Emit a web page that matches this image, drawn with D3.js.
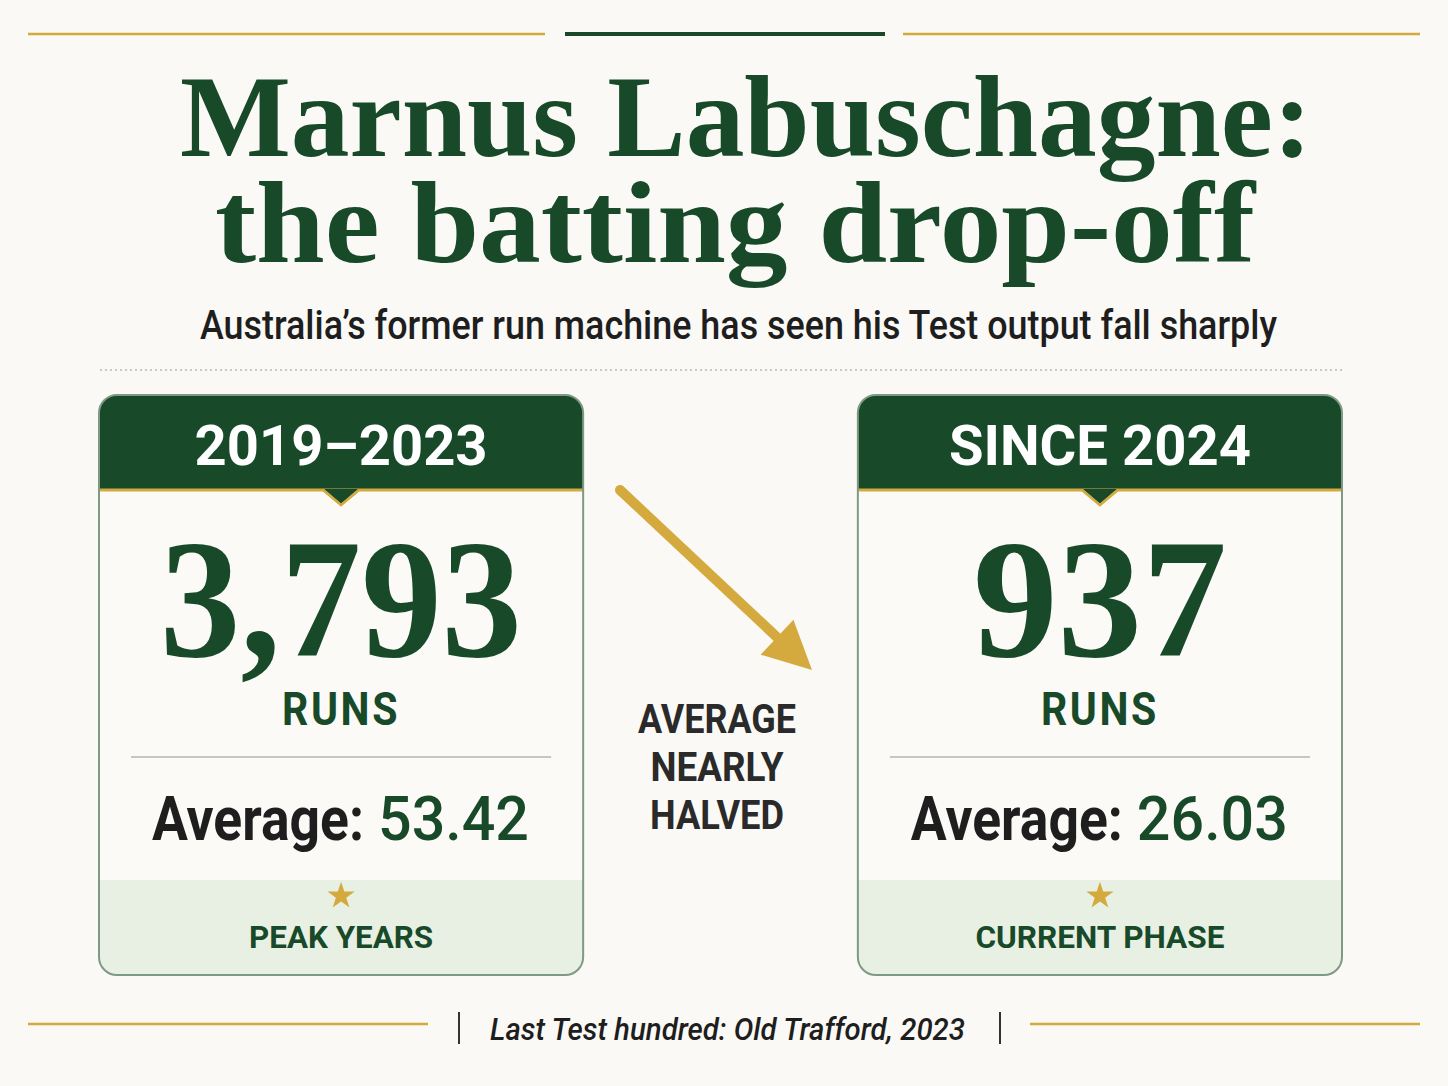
<!DOCTYPE html>
<html>
<head>
<meta charset="utf-8">
<script src="https://cdn.jsdelivr.net/npm/d3@7"></script>
<style>
  html, body { margin: 0; padding: 0; background: #faf9f5; }
  svg { display: block; }
</style>
</head>
<body>
<div id="container"></div>
<script>
// Data
const periods = ['2019–2023', 'SINCE 2024'];
const runs = [3793, 937];
const averages = [53.42, 26.03];
const phaseTags = ['PEAK YEARS', 'CURRENT PHASE'];
const middleNote = ['AVERAGE', 'NEARLY', 'HALVED'];

const titleLines = ['Marnus Labuschagne:', 'the batting drop-off'];
const subtitle = 'Australia’s former run machine has seen his Test output fall sharply';
const footnote = 'Last Test hundred: Old Trafford, 2023';

window.onload = function () {
    const W = 1448, H = 1086;
    const green = '#184a2a';
    const gold = '#d4aa3e';
    const ink = '#1e1e1e';

    const svg = d3.select('#container').append('svg')
        .attr('width', W)
        .attr('height', H);

    svg.append('rect').attr('width', W).attr('height', H).attr('fill', '#faf9f5');

    // helper: squeeze text to a given width
    function fit(sel, w) {
        sel.attr('textLength', w).attr('lengthAdjust', 'spacingAndGlyphs');
        return sel;
    }

    // top rules
    svg.append('line').attr('x1', 28).attr('x2', 545).attr('y1', 34).attr('y2', 34)
        .attr('stroke', gold).attr('stroke-width', 2.5);
    svg.append('line').attr('x1', 565).attr('x2', 885).attr('y1', 34).attr('y2', 34)
        .attr('stroke', green).attr('stroke-width', 4);
    svg.append('line').attr('x1', 903).attr('x2', 1420).attr('y1', 34).attr('y2', 34)
        .attr('stroke', gold).attr('stroke-width', 2.5);

    // title
    const titleY = [156, 262];
    const titleX = [[180, 1312], [215, 1255]];
    titleLines.forEach((t, i) => {
        fit(svg.append('text')
            .attr('x', titleX[i][0])
            .attr('y', titleY[i])
            .attr('font-family', '"Liberation Serif", "DejaVu Serif", serif')
            .attr('font-weight', 700)
            .attr('font-size', 116)
            .attr('fill', green)
            .text(t), titleX[i][1] - titleX[i][0]);
    });

    // subtitle
    fit(svg.append('text')
        .attr('x', 200).attr('y', 339)
        .attr('font-family', 'Roboto, "Noto Sans", sans-serif')
        .attr('font-weight', 500)
        .attr('font-size', 40)
        .attr('fill', ink)
        .text(subtitle), 1077);

    // dotted separator
    svg.append('line').attr('x1', 100).attr('x2', 1345).attr('y1', 370).attr('y2', 370)
        .attr('stroke', '#9a9a9a').attr('stroke-width', 1.2).attr('stroke-dasharray', '2,3');

    // card positions
    const xCard = d3.scaleBand()
        .domain(periods)
        .range([99, 1342])
        .paddingInner(0.362)
        .paddingOuter(0);
    const bw = xCard.bandwidth();
    const top = 395, bottom = 975, headH = 95, bandTop = 880, r = 18;

    const defs = svg.append('defs');
    const cards = svg.selectAll('g.card')
        .data(periods.map((p, i) => ({ p, i, runs: runs[i], avg: averages[i], tag: phaseTags[i] })))
        .join('g')
        .attr('class', 'card')
        .attr('transform', d => `translate(${xCard(d.p)},0)`);

    cards.each(function (d) {
        defs.append('clipPath').attr('id', 'clip' + d.i)
            .append('rect').attr('x', 0).attr('y', top).attr('width', bw).attr('height', bottom - top)
            .attr('rx', r).attr('ry', r);
    });

    const inner = cards.append('g').attr('clip-path', d => `url(#clip${d.i})`);
    inner.append('rect').attr('x', 0).attr('y', top).attr('width', bw).attr('height', bottom - top)
        .attr('fill', '#fbfaf6');
    inner.append('rect').attr('x', 0).attr('y', top).attr('width', bw).attr('height', headH)
        .attr('fill', green);
    inner.append('rect').attr('x', 0).attr('y', bandTop).attr('width', bw).attr('height', bottom - bandTop)
        .attr('fill', '#e7f0e3');
    inner.append('rect').attr('x', 0).attr('y', top + headH - 1.5).attr('width', bw).attr('height', 3)
        .attr('fill', gold);

    // notch under header
    const cx = bw / 2;
    const ny = top + headH;
    cards.append('path')
        .attr('d', `M${cx - 17},${ny - 1} L${cx},${ny + 14} L${cx + 17},${ny - 1} Z`)
        .attr('fill', green);
    cards.append('path')
        .attr('d', `M${cx - 18},${ny} L${cx},${ny + 15} L${cx + 18},${ny}`)
        .attr('fill', 'none').attr('stroke', gold).attr('stroke-width', 2.5);

    // border
    cards.append('rect').attr('x', 0).attr('y', top).attr('width', bw).attr('height', bottom - top)
        .attr('rx', r).attr('ry', r)
        .attr('fill', 'none').attr('stroke', '#7f9a84').attr('stroke-width', 2);

    // header label
    const headW = [293, 302];
    cards.append('text')
        .attr('x', cx).attr('y', 465)
        .attr('text-anchor', 'middle')
        .attr('font-family', 'Roboto, "Noto Sans", sans-serif')
        .attr('font-weight', 700)
        .attr('font-size', 56)
        .attr('fill', '#ffffff')
        .attr('textLength', d => headW[d.i])
        .attr('lengthAdjust', 'spacingAndGlyphs')
        .text(d => d.p);

    // big run totals
    const runW = [362, 254];
    cards.append('text')
        .attr('x', cx).attr('y', 656)
        .attr('text-anchor', 'middle')
        .attr('font-family', '"Liberation Serif", "DejaVu Serif", serif')
        .attr('font-weight', 700)
        .attr('font-size', 170)
        .attr('fill', green)
        .attr('textLength', d => runW[d.i])
        .attr('lengthAdjust', 'spacingAndGlyphs')
        .text(d => d3.format(',')(d.runs));

    cards.append('text')
        .attr('x', cx).attr('y', 725)
        .attr('text-anchor', 'middle')
        .attr('font-family', 'Roboto, "Noto Sans", sans-serif')
        .attr('font-weight', 700)
        .attr('font-size', 47)
        .attr('fill', green)
        .attr('letter-spacing', 3)
        .attr('textLength', 118)
        .attr('lengthAdjust', 'spacingAndGlyphs')
        .text('RUNS');

    // divider
    cards.append('line')
        .attr('x1', 32).attr('x2', bw - 32).attr('y1', 757).attr('y2', 757)
        .attr('stroke', '#b5b5b0').attr('stroke-width', 1.5);

    // average line
    cards.append('text')
        .attr('x', 53).attr('y', 840)
        .attr('font-family', 'Roboto, "Noto Sans", sans-serif')
        .attr('font-weight', 700)
        .attr('font-size', 62)
        .attr('fill', ink)
        .attr('textLength', 212)
        .attr('lengthAdjust', 'spacingAndGlyphs')
        .text('Average:');
    cards.append('text')
        .attr('x', 279).attr('y', 840)
        .attr('font-family', 'Roboto, "Noto Sans", sans-serif')
        .attr('font-weight', 500)
        .attr('font-size', 62)
        .attr('fill', green)
        .attr('textLength', 151)
        .attr('lengthAdjust', 'spacingAndGlyphs')
        .text(d => d3.format('.2f')(d.avg));

    // star + tag
    cards.append('path')
        .attr('transform', `translate(${cx},896)`)
        .attr('d', d3.symbol().type(d3.symbolStar).size(230))
        .attr('fill', gold);
    const tagW = [184, 249];
    cards.append('text')
        .attr('x', cx).attr('y', 948)
        .attr('text-anchor', 'middle')
        .attr('font-family', 'Roboto, "Noto Sans", sans-serif')
        .attr('font-weight', 700)
        .attr('font-size', 32)
        .attr('fill', green)
        .attr('textLength', d => tagW[d.i])
        .attr('lengthAdjust', 'spacingAndGlyphs')
        .text(d => d.tag);

    // arrow between cards
    const a0 = [620, 490], a1 = [812, 670];
    const ang = Math.atan2(a1[1] - a0[1], a1[0] - a0[0]);
    const headLen = 48, headHalf = 24;
    const bx = a1[0] - headLen * Math.cos(ang), by = a1[1] - headLen * Math.sin(ang);
    svg.append('line')
        .attr('x1', a0[0]).attr('y1', a0[1])
        .attr('x2', bx + 6 * Math.cos(ang)).attr('y2', by + 6 * Math.sin(ang))
        .attr('stroke', gold).attr('stroke-width', 10).attr('stroke-linecap', 'round');
    svg.append('path')
        .attr('d', d3.line()([
            [a1[0], a1[1]],
            [bx + headHalf * Math.sin(ang), by - headHalf * Math.cos(ang)],
            [bx - headHalf * Math.sin(ang), by + headHalf * Math.cos(ang)]
        ]) + 'Z')
        .attr('fill', gold);

    // middle note
    const noteW = [158, 133, 134];
    svg.selectAll('text.note')
        .data(middleNote)
        .join('text')
        .attr('class', 'note')
        .attr('x', 717)
        .attr('y', (d, i) => 733 + i * 48)
        .attr('text-anchor', 'middle')
        .attr('font-family', 'Roboto, "Noto Sans", sans-serif')
        .attr('font-weight', 700)
        .attr('font-size', 40)
        .attr('fill', '#2a2a2a')
        .attr('textLength', (d, i) => noteW[i])
        .attr('lengthAdjust', 'spacingAndGlyphs')
        .text(d => d);

    // footer
    svg.append('line').attr('x1', 28).attr('x2', 428).attr('y1', 1024).attr('y2', 1024)
        .attr('stroke', gold).attr('stroke-width', 2.5);
    svg.append('line').attr('x1', 1030).attr('x2', 1420).attr('y1', 1024).attr('y2', 1024)
        .attr('stroke', gold).attr('stroke-width', 2.5);
    [459, 1000].forEach(x => {
        svg.append('line').attr('x1', x).attr('x2', x).attr('y1', 1012).attr('y2', 1044)
            .attr('stroke', '#333').attr('stroke-width', 2);
    });
    fit(svg.append('text')
        .attr('x', 490).attr('y', 1040)
        .attr('font-family', 'Roboto, "Noto Sans", sans-serif')
        .attr('font-style', 'italic')
        .attr('font-weight', 500)
        .attr('font-size', 32)
        .attr('fill', ink)
        .text(footnote), 475);
};
</script>
</body>
</html>
